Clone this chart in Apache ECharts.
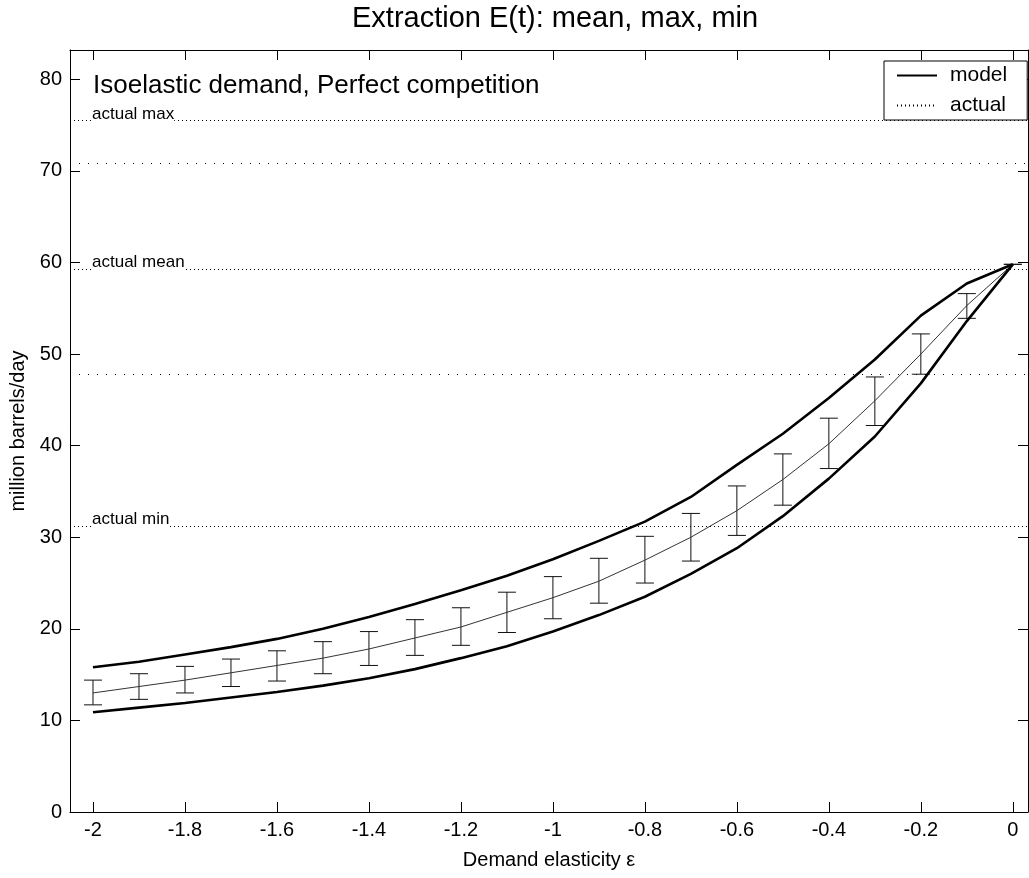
<!DOCTYPE html>
<html>
<head>
<meta charset="utf-8">
<title>Extraction E(t): mean, max, min</title>
<script src="https://cdn.jsdelivr.net/npm/echarts@6/dist/echarts.min.js"></script>
<style>
    html, body { margin: 0; padding: 0; background: #fff; }
    #chart { width: 1029px; height: 878px; }
</style>
</head>
<body>
<div id="chart"></div>
<script>
// demand elasticity grid (x)
const elasticity = [-2, -1.9, -1.8, -1.7, -1.6, -1.5, -1.4, -1.3, -1.2, -1.1, -1,
    -0.9, -0.8, -0.7, -0.6, -0.5, -0.4, -0.3, -0.2, -0.1, 0];

// model extraction, million barrels/day
const modelMax = [15.8, 16.4, 17.2, 18.0, 18.9, 20.0, 21.3, 22.7, 24.2, 25.8, 27.6,
    29.6, 31.7, 34.4, 37.9, 41.3, 45.2, 49.4, 54.2, 57.7, 59.8];
const modelMin = [10.9, 11.4, 11.9, 12.5, 13.1, 13.8, 14.6, 15.6, 16.8, 18.1, 19.7,
    21.5, 23.5, 26.0, 28.8, 32.3, 36.4, 41.0, 46.8, 53.6, 59.8];
const modelMean = [13.0, 13.7, 14.4, 15.2, 16.0, 16.8, 17.8, 19.0, 20.2, 21.8, 23.4,
    25.2, 27.5, 30.0, 32.9, 36.3, 40.2, 44.9, 50.0, 55.3, 59.8];
const barLow = [11.7, 12.3, 13.0, 13.7, 14.3, 15.1, 16.0, 17.1, 18.2, 19.6, 21.1,
    22.8, 25.0, 27.4, 30.2, 33.5, 37.5, 42.2, 47.8, 53.9, 59.8];
const barHigh = [14.4, 15.1, 15.9, 16.7, 17.6, 18.6, 19.7, 21.0, 22.3, 24.0, 25.7,
    27.7, 30.1, 32.6, 35.6, 39.1, 43.0, 47.5, 52.2, 56.6, 59.8];

// observed levels
const actualLevels = [75.5, 70.8, 59.3, 47.8, 31.2];
const actualLabels = ['actual max', '', 'actual mean', '', 'actual min'];

// ticks
const xTicks = [-2, -1.8, -1.6, -1.4, -1.2, -1, -0.8, -0.6, -0.4, -0.2, 0];
const yTicks = [0, 10, 20, 30, 40, 50, 60, 70, 80];

const font = 'Liberation Sans, Arial, Helvetica, sans-serif';

function pairs(ys) {
    return elasticity.map((x, i) => [x, ys[i]]);
}

function xAxisOf(position, withLabels) {
    return {
        type: 'value',
        position: position,
        min: -2.05,
        max: 0.033,
        splitLine: { show: false },
        axisLine: { show: true, onZero: false, lineStyle: { color: '#000', width: 1 } },
        axisTick: { show: true, inside: true, length: 10, customValues: xTicks, lineStyle: { color: '#000' } },
        axisLabel: {
            show: withLabels, customValues: xTicks, color: '#000',
            fontSize: 20, fontFamily: font, margin: 8
        },
        name: withLabels ? 'Demand elasticity ε' : '',
        nameLocation: 'middle',
        nameGap: 38,
        nameTextStyle: { color: '#000', fontSize: 20, fontFamily: font }
    };
}

function yAxisOf(position, withLabels) {
    return {
        type: 'value',
        position: position,
        min: 0,
        max: 83.2,
        splitLine: { show: false },
        axisLine: { show: true, onZero: false, lineStyle: { color: '#000', width: 1 } },
        axisTick: { show: true, inside: true, length: 10, customValues: yTicks, lineStyle: { color: '#000' } },
        axisLabel: {
            show: withLabels, customValues: yTicks, color: '#000',
            fontSize: 20, fontFamily: font, margin: 8
        },
        name: withLabels ? 'million barrels/day' : '',
        nameLocation: 'middle',
        nameGap: 38,
        nameTextStyle: { color: '#000', fontSize: 20, fontFamily: font }
    };
}

// error bars drawn through the axis scale
function renderBar(params, api) {
    const x = api.value(0);
    const lo = api.coord([x, api.value(1)]);
    const hi = api.coord([x, api.value(2)]);
    const w = 9;
    const style = { stroke: '#111', lineWidth: 1 };
    return {
        type: 'group',
        children: [
            { type: 'line', shape: { x1: lo[0], y1: lo[1], x2: hi[0], y2: hi[1] }, style: style },
            { type: 'line', shape: { x1: hi[0] - w, y1: hi[1], x2: hi[0] + w, y2: hi[1] }, style: style },
            { type: 'line', shape: { x1: lo[0] - w, y1: lo[1], x2: lo[0] + w, y2: lo[1] }, style: style }
        ]
    };
}

const options = {
    animation: false,
    backgroundColor: '#fff',
    title: {
        text: 'Extraction E(t): mean, max, min',
        left: 352,
        top: 4,
        padding: 0,
        textStyle: { color: '#000', fontSize: 29, fontWeight: 'normal', fontFamily: font }
    },
    legend: {
        data: ['model', 'actual'],
        orient: 'vertical',
        left: 884,
        top: 61,
        padding: [4, 20, 4, 12],
        itemGap: 9,
        itemWidth: 40,
        itemHeight: 20,
        borderColor: '#000',
        borderWidth: 1,
        backgroundColor: '#fff',
        itemStyle: { color: 'rgba(0,0,0,0)', borderWidth: 0, opacity: 0 },
        textStyle: { color: '#000', fontSize: 21, fontFamily: font, padding: [0, 0, 0, 8] }
    },
    grid: {
        left: 70,
        right: 1,
        top: 50,
        bottom: 66,
        containLabel: false,
        outerBoundsMode: 'none'
    },
    graphic: [{
        type: 'text',
        left: 93,
        top: 73,
        style: {
            text: 'Isoelastic demand, Perfect competition',
            fill: '#000',
            fontSize: 26,
            fontFamily: font
        }
    }],
    xAxis: [xAxisOf('bottom', true), xAxisOf('top', false)],
    yAxis: [yAxisOf('left', true), yAxisOf('right', false)],
    series: [
        {
            name: 'actual',
            type: 'line',
            data: [],
            symbol: 'none',
            itemStyle: { color: '#000' },
            lineStyle: { color: '#000', width: 1, type: [1, 3] },
            markLine: {
                silent: true,
                symbol: ['none', 'none'],
                data: actualLevels.map((v, i) => ({
                    yAxis: v,
                    lineStyle: { color: '#000', width: 1, type: actualLabels[i] ? [1, 3] : [1, 8] },
                    label: {
                        show: actualLabels[i] !== '',
                        formatter: actualLabels[i],
                        position: 'insideStartTop',
                        distance: [22, -2],
                        color: '#000',
                        fontSize: 17,
                        fontFamily: font,
                        backgroundColor: '#fff'
                    }
                }))
            }
        },
        {
            name: 'mean',
            type: 'line',
            data: pairs(modelMean),
            symbol: 'none',
            lineStyle: { color: '#333', width: 1 }
        },
        {
            name: 'spread',
            type: 'custom',
            data: elasticity.map((x, i) => [x, barLow[i], barHigh[i]]),
            encode: { x: 0, y: [1, 2] },
            renderItem: renderBar
        },
        {
            name: 'model',
            type: 'line',
            data: pairs(modelMax),
            symbol: 'none',
            itemStyle: { color: '#000' },
            lineStyle: { color: '#000', width: 2.6 }
        },
        {
            name: 'model',
            type: 'line',
            data: pairs(modelMin),
            symbol: 'none',
            itemStyle: { color: '#000' },
            lineStyle: { color: '#000', width: 2.6 }
        }
    ]
};

const E = echarts.init(document.getElementById('chart'));
window.onresize = function () {
    E.resize();
};
E.setOption(options);
</script>
</body>
</html>
